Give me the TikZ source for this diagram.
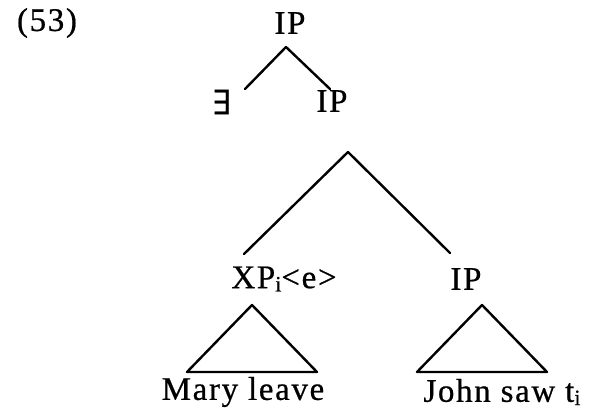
\documentclass[tikz,border=0pt]{standalone}
\usepackage{fontspec}
\setmainfont{Liberation Serif}
\newfontfamily\spaced[LetterSpace=5,FakeBold=0.6]{Liberation Serif}
\newfontfamily\djs[FakeBold=0.6]{DejaVu Serif}
\begin{document}
\begin{tikzpicture}[x=1pt,y=-1pt,
  lbl/.style={inner sep=0pt,font=\spaced\fontsize{33}{36}\selectfont},
  edge/.style={line width=2.4pt,line cap=round,line join=round}]
\useasboundingbox (0,0) rectangle (600,414);
\newcommand{\sbi}{\raisebox{-0.1em}{\fontsize{22}{22}\selectfont i}}
\node[lbl] (ex) at (47,23) {(53)};
\node[lbl] (ip1) at (290,23) {IP};
\node[lbl] (exi) at (222,102) {{\djs\fontsize{34}{36}\selectfont ∃}};
\node[lbl] (ip2) at (332,101) {IP};
\node[lbl] (xp) at (284,279) {XP\sbi<e>};
\node[lbl] (ip3) at (466,279) {IP};
\node[lbl] (ml) at (243,392) {Mary leave};
\node[lbl] (js) at (502,392) {John saw t\sbi};
% connector points
\coordinate (a1) at (286,47);
\coordinate (a1l) at (245,89);
\coordinate (a1r) at (330,89);
\coordinate (a2) at (348,152);
\coordinate (a2l) at (244,254);
\coordinate (a2r) at (450,253);
\draw[edge] (a1l) -- (a1) -- (a1r);
\draw[edge] (a2l) -- (a2) -- (a2r);
% triangles
\coordinate (t1) at (252,305);
\coordinate (t1l) at (187,372);
\coordinate (t1r) at (317,372);
\coordinate (t2) at (482,305);
\coordinate (t2l) at (417,372);
\coordinate (t2r) at (547,372);
\draw[edge] (t1) -- (t1l) -- (t1r) -- cycle;
\draw[edge] (t2) -- (t2l) -- (t2r) -- cycle;
\end{tikzpicture}
\end{document}
